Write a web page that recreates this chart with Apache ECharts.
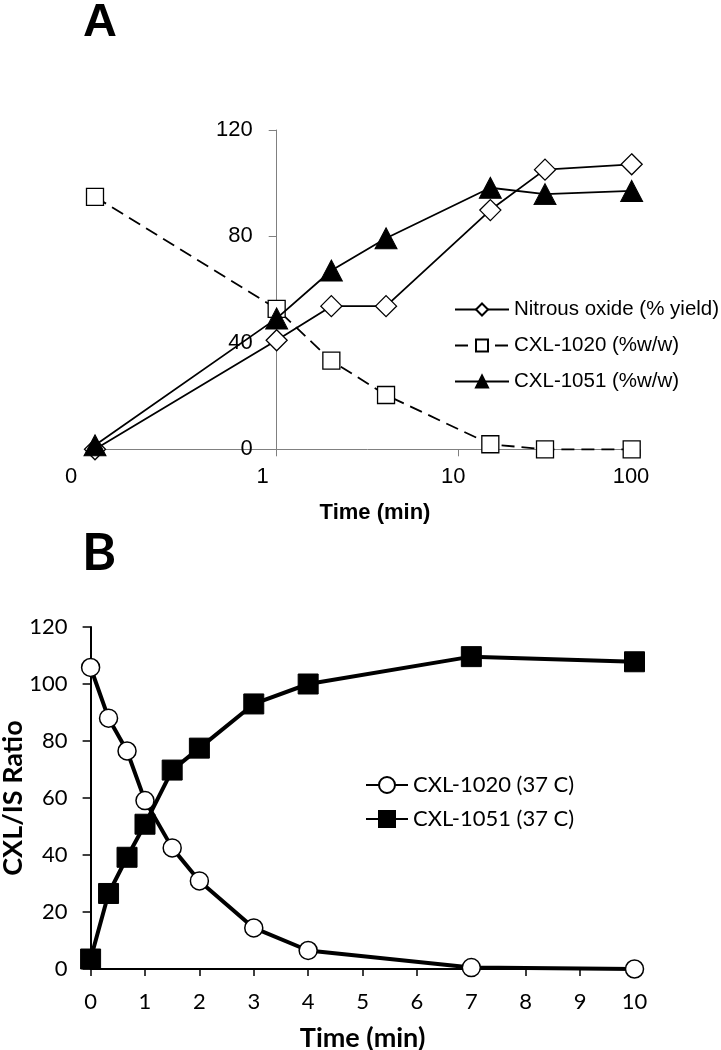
<!DOCTYPE html>
<html>
<head>
<meta charset="utf-8">
<script src="https://cdn.jsdelivr.net/npm/echarts@6/dist/echarts.min.js"></script>
<style>html,body{margin:0;padding:0;background:#fff}#c{width:721px;height:1050px}</style>
</head>
<body>
<div id="c"></div>
<script>
// Panel A (log time axis)
var timeA = [0.1, 1, 2, 4, 15, 30, 90];
var nitrousOxide = [0, 41, 53.8, 53.8, 89.9, 105.1, 107.1];
var cxl1020A = [94.9, 52.8, 33.3, 20.4, 1.9, 0, 0];
var cxl1051A = [1.5, 49.2, 67.2, 79.3, 98.3, 95.9, 97.1];
var yTicksA = [0, 40, 80, 120];
var xTickLabelsA = {0.1: '0', 1: '1', 10: '10', 100: '100'};

// Panel B (linear time axis)
var timeB = [0, 0.33, 0.67, 1, 1.5, 2, 3, 4, 7, 10];
var cxl1020B = [105.8, 88, 76.5, 59.1, 42.5, 30.9, 14.4, 6.5, 0.5, 0];
var cxl1051B = [3.5, 26.5, 39.2, 50.8, 69.8, 77.5, 93, 100, 109.6, 107.8];

function pairs(xs, ys) { return xs.map(function (x, i) { return [x, ys[i]]; }); }

var fA = 'Liberation Sans';
var fB = 'Lato';

var chart = echarts.init(document.getElementById('c'), null, {renderer: 'canvas'});
chart.setOption({
  animation: false,
  backgroundColor: '#fff',
  title: [
    {text: 'A', left: 78, top: -5, textStyle: {fontFamily: fA, fontWeight: 'bold', fontSize: 47, color: '#000'}},
    {text: 'B', left: 77, top: 522, textStyle: {fontFamily: fB, fontWeight: 'bold', fontSize: 52, color: '#000'}}
  ],
  grid: [
    {left: 95, right: 81, top: 130, height: 319.3, outerBoundsMode: 'none', containLabel: false},
    {left: 90.6, right: 86.5, top: 627, height: 342, outerBoundsMode: 'none', containLabel: false}
  ],
  xAxis: [
    {
      gridIndex: 0, type: 'log', logBase: 10, min: 0.1, max: 100,
      name: 'Time (min)', nameLocation: 'middle', nameGap: 53,
      nameTextStyle: {fontFamily: fA, fontWeight: 'bold', fontSize: 22, color: '#000', padding: [0, 0, 0, 15]},
      axisLine: {lineStyle: {color: '#808080', width: 1}},
      axisTick: {show: true, length: 7, lineStyle: {color: '#808080'}},
      minorTick: {show: false},
      splitLine: {show: false},
      axisLabel: {
        margin: 17, fontFamily: fA, fontSize: 22, color: '#000',
        formatter: function (v) {
          var k = Math.round(Math.log(v) / Math.LN10);
          var lbl = xTickLabelsA[Math.pow(10, k)] || String(v);
          return '{t' + (k + 1) + '|' + lbl + '}';
        },
        rich: {
          t0: {fontFamily: fA, fontSize: 22, color: '#000', padding: [0, 48, 0, 0]},
          t1: {fontFamily: fA, fontSize: 22, color: '#000', padding: [0, 28, 0, 0]},
          t2: {fontFamily: fA, fontSize: 22, color: '#000', padding: [0, 10, 0, 0]},
          t3: {fontFamily: fA, fontSize: 22, color: '#000', padding: [0, 18, 0, 0]}
        }
      }
    },
    {
      gridIndex: 1, type: 'value', min: 0, max: 10, interval: 1,
      name: 'Time (min)', nameLocation: 'middle', nameGap: 56,
      nameTextStyle: {fontFamily: fB, fontWeight: 'bold', fontSize: 27, color: '#000'},
      axisLine: {lineStyle: {color: '#000', width: 2}},
      axisTick: {show: true, length: 7, lineStyle: {color: '#000', width: 1.5}},
      splitLine: {show: false},
      axisLabel: {margin: 22, fontFamily: fB, fontSize: 22, color: '#000'}
    }
  ],
  yAxis: [
    {
      gridIndex: 0, type: 'value', min: 0, max: 120, interval: 40,
      offset: -181.7,
      axisLine: {show: true, lineStyle: {color: '#808080', width: 1}},
      axisTick: {show: true, length: 8, lineStyle: {color: '#808080'}},
      splitLine: {show: false},
      axisLabel: {margin: 24, fontFamily: fA, fontSize: 22, color: '#000',
        formatter: function (v) { return yTicksA.indexOf(v) >= 0 ? String(v) : ''; }}
    },
    {
      gridIndex: 1, type: 'value', min: 0, max: 120, interval: 20,
      name: 'CXL/IS Ratio', nameLocation: 'middle', nameGap: 64, nameRotate: 90,
      nameMoveOverlap: false,
      nameTextStyle: {fontFamily: fB, fontWeight: 'bold', fontSize: 27, color: '#000'},
      axisLine: {show: true, lineStyle: {color: '#000', width: 2}},
      axisTick: {show: true, length: 8, lineStyle: {color: '#000', width: 1.5}},
      splitLine: {show: false},
      axisLabel: {margin: 23, fontFamily: fB, fontSize: 22, color: '#000'}
    }
  ],
  legend: [
    {
      orient: 'vertical', left: 449, top: 294, itemWidth: 54, itemHeight: 15, itemGap: 15,
      textStyle: {fontFamily: fA, fontSize: 20.5, color: '#000'},
      data: ['Nitrous oxide (% yield)', 'CXL-1020 (%w/w)', 'CXL-1051 (%w/w)']
    },
    {
      orient: 'vertical', left: 360, top: 769, itemWidth: 42, itemHeight: 20, itemGap: 12,
      textStyle: {fontFamily: fB, fontSize: 22, color: '#000'},
      data: ['CXL-1020 (37 C)', 'CXL-1051 (37 C)']
    }
  ],
  series: [
    {
      name: 'Nitrous oxide (% yield)', type: 'line', xAxisIndex: 0, yAxisIndex: 0, clip: false,
      data: pairs(timeA, nitrousOxide),
      symbol: 'diamond', symbolSize: [21, 21],
      lineStyle: {color: '#000', width: 1.8},
      itemStyle: {color: '#fff', borderColor: '#000', borderWidth: 1.3},
      z: 3
    },
    {
      name: 'CXL-1020 (%w/w)', type: 'line', xAxisIndex: 0, yAxisIndex: 0, clip: false,
      data: pairs(timeA, cxl1020A),
      symbol: 'rect', symbolSize: 17,
      lineStyle: {color: '#000', width: 1.8, type: [13, 7]},
      itemStyle: {color: '#fff', borderColor: '#000', borderWidth: 1.3},
      z: 2
    },
    {
      name: 'CXL-1051 (%w/w)', type: 'line', xAxisIndex: 0, yAxisIndex: 0, clip: false,
      data: pairs(timeA, cxl1051A),
      symbol: 'triangle', symbolSize: [22, 21],
      lineStyle: {color: '#000', width: 1.8},
      itemStyle: {color: '#000', borderColor: '#000', borderWidth: 1},
      z: 4
    },
    {
      name: 'CXL-1020 (37 C)', type: 'line', xAxisIndex: 1, yAxisIndex: 1, clip: false,
      data: pairs(timeB, cxl1020B),
      symbol: 'circle', symbolSize: 18,
      lineStyle: {color: '#000', width: 4},
      itemStyle: {color: '#fff', borderColor: '#000', borderWidth: 1.5},
      z: 4
    },
    {
      name: 'CXL-1051 (37 C)', type: 'line', xAxisIndex: 1, yAxisIndex: 1, clip: false,
      data: pairs(timeB, cxl1051B),
      symbol: 'rect', symbolSize: 20,
      lineStyle: {color: '#000', width: 4},
      itemStyle: {color: '#000', borderColor: '#000', borderWidth: 1},
      z: 3
    }
  ]
});
</script>
</body>
</html>
